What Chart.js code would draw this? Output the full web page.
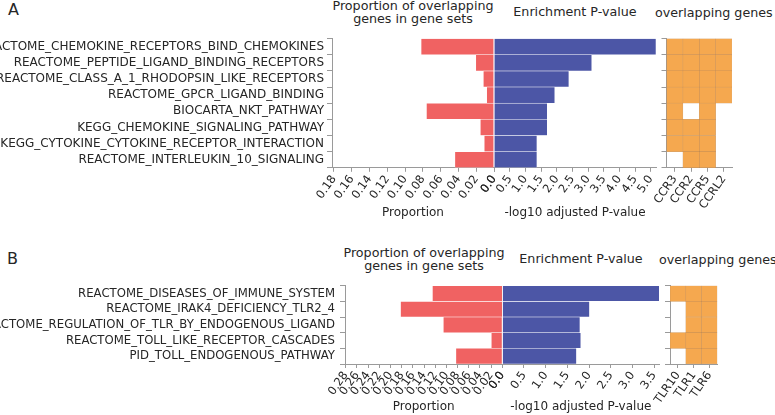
<!DOCTYPE html>
<html>
<head>
<meta charset="utf-8">
<script src="https://cdn.jsdelivr.net/npm/chart.js@4.4.0/dist/chart.umd.min.js"></script>
<style>
  body { margin: 0; background: #fff; font-family: 'DejaVu Sans', sans-serif; color: #262626; }
  #wrap { position: relative; width: 775px; height: 415px; overflow: hidden; }
  canvas { position: absolute; }
  .ttl { position: absolute; font-size: 12.7px; line-height: 12.5px; white-space: nowrap; text-align: center; }
  .panel { position: absolute; font-size: 16px; line-height: 16px; }
</style>
</head>
<body>
<div id="wrap">
  <div class="panel" style="left:8px;top:2px">A</div>
  <div class="ttl" style="left:313px;width:200px;top:0px">Proportion of overlapping<br>genes in gene sets</div>
  <div class="ttl" style="left:475px;width:200px;top:6px">Enrichment P-value</div>
  <div class="ttl" style="left:655px;top:7px;text-align:left">overlapping genes</div>

  <div class="panel" style="left:7px;top:251px">B</div>
  <div class="ttl" style="left:324px;width:200px;top:247px">Proportion of overlapping<br>genes in gene sets</div>
  <div class="ttl" style="left:481px;width:200px;top:253px">Enrichment P-value</div>
  <div class="ttl" style="left:659px;top:254px;text-align:left">overlapping genes</div>

  <canvas id="propA" width="500" height="220" style="left:0;top:0"></canvas>
  <canvas id="enrichA" width="230" height="220" style="left:440px;top:0"></canvas>
  <canvas id="heatA" width="139" height="220" style="left:636px;top:0"></canvas>

  <canvas id="propB" width="508" height="174" style="left:0;top:240px"></canvas>
  <canvas id="enrichB" width="225" height="174" style="left:450px;top:240px"></canvas>
  <canvas id="heatB" width="139" height="174" style="left:636px;top:240px"></canvas>
</div>
<script>
// Panel A data
const pathwaysA = [
    'REACTOME_CHEMOKINE_RECEPTORS_BIND_CHEMOKINES',
    'REACTOME_PEPTIDE_LIGAND_BINDING_RECEPTORS',
    'REACTOME_CLASS_A_1_RHODOPSIN_LIKE_RECEPTORS',
    'REACTOME_GPCR_LIGAND_BINDING',
    'BIOCARTA_NKT_PATHWAY',
    'KEGG_CHEMOKINE_SIGNALING_PATHWAY',
    'KEGG_CYTOKINE_CYTOKINE_RECEPTOR_INTERACTION',
    'REACTOME_INTERLEUKIN_10_SIGNALING'
];
const proportionA = [0.082, 0.0205, 0.012, 0.0082, 0.076, 0.0154, 0.011, 0.044];
const enrichA = [5.17, 3.12, 2.39, 1.94, 1.70, 1.70, 1.37, 1.37];
const genesA = ['CCR3', 'CCR2', 'CCR5', 'CCRL2'];
const overlapA = [
    [1, 1, 1, 1],
    [1, 1, 1, 1],
    [1, 1, 1, 1],
    [1, 1, 1, 1],
    [1, 0, 1, 0],
    [1, 1, 1, 0],
    [1, 1, 1, 0],
    [0, 1, 1, 0]
];
const propTicksA = [0, 0.02, 0.04, 0.06, 0.08, 0.10, 0.12, 0.14, 0.16, 0.18];
const enrichTicksA = [0, 0.5, 1.0, 1.5, 2.0, 2.5, 3.0, 3.5, 4.0, 4.5, 5.0];

// Panel B data
const pathwaysB = [
    'REACTOME_DISEASES_OF_IMMUNE_SYSTEM',
    'REACTOME_IRAK4_DEFICIENCY_TLR2_4',
    'REACTOME_REGULATION_OF_TLR_BY_ENDOGENOUS_LIGAND',
    'REACTOME_TOLL_LIKE_RECEPTOR_CASCADES',
    'PID_TOLL_ENDOGENOUS_PATHWAY'
];
const proportionB = [0.125, 0.182, 0.1055, 0.0197, 0.083];
const enrichB = [3.62, 2.01, 1.79, 1.81, 1.71];
const genesB = ['TLR10', 'TLR1', 'TLR6'];
const overlapB = [
    [1, 1, 1],
    [0, 1, 1],
    [0, 1, 1],
    [1, 1, 1],
    [0, 1, 1]
];
const propTicksB = [0, 0.02, 0.04, 0.06, 0.08, 0.10, 0.12, 0.14, 0.16, 0.18, 0.20, 0.22, 0.24, 0.26, 0.28];
const enrichTicksB = [0, 0.5, 1.0, 1.5, 2.0, 2.5, 3.0, 3.5];

const RED = '#f06262';
const BLUE = '#4c56a6';
const ORANGE = '#f5a84f';
const AXIS = '#9a9a9a';
const TEXT = '#262626';
const FONT = "'DejaVu Sans', sans-serif";
const ROT = 55;

function xAxis(max, ticks, fmt, title, xh, reverse) {
    return {
        type: 'linear',
        reverse: reverse,
        min: 0,
        max: max,
        afterBuildTicks: function(s) { s.ticks = ticks.map(v => ({ value: v })); },
        afterFit: function(s) { s.height = xh; s.paddingLeft = 0; s.paddingRight = 0; },
        grid: { drawOnChartArea: false, tickLength: 4, color: AXIS },
        border: { color: AXIS },
        ticks: {
            autoSkip: false, minRotation: ROT, maxRotation: ROT, padding: 1,
            color: TEXT, font: { family: FONT, size: 11.5 },
            callback: fmt
        },
        title: {
            display: !!title, text: title, color: TEXT, padding: 0,
            font: { family: FONT, size: 12 }
        }
    };
}

// Proportion bars (left, reversed axis) with pathway names
function proportionChart(id, labels, values, max, ticks, box) {
    new Chart(document.getElementById(id), {
        type: 'bar',
        data: {
            labels: labels,
            datasets: [{
                data: values,
                backgroundColor: RED,
                borderColor: 'rgba(255,255,255,0.4)',
                borderWidth: 0.6,
                barPercentage: 1,
                categoryPercentage: 1
            }]
        },
        options: {
            indexAxis: 'y',
            responsive: false,
            animation: false,
            layout: { padding: { top: box.top, right: box.right, left: 0, bottom: 0 } },
            plugins: { legend: { display: false }, tooltip: { enabled: false } },
            scales: {
                x: xAxis(max, ticks, v => v === 0 ? '0.0' : v.toFixed(2), 'Proportion', box.xh, true),
                y: {
                    afterFit: function(s) { s.width = box.yw; s.paddingTop = 0; s.paddingBottom = 0; },
                    grid: { drawOnChartArea: false, tickLength: 5, color: AXIS },
                    border: { color: AXIS },
                    ticks: { autoSkip: false, padding: box.pad, color: TEXT, font: { family: FONT, size: box.font } }
                }
            }
        }
    });
}

// Enrichment bars (middle)
function enrichChart(id, labels, values, max, ticks, box) {
    new Chart(document.getElementById(id), {
        type: 'bar',
        data: {
            labels: labels,
            datasets: [{
                data: values,
                backgroundColor: BLUE,
                borderColor: 'rgba(255,255,255,0.3)',
                borderWidth: 0.6,
                barPercentage: 1,
                categoryPercentage: 1
            }]
        },
        options: {
            indexAxis: 'y',
            responsive: false,
            animation: false,
            layout: { padding: { top: box.top, right: box.right, left: box.left, bottom: 0 } },
            plugins: { legend: { display: false }, tooltip: { enabled: false } },
            scales: {
                x: xAxis(max, ticks, v => v.toFixed(1), '-log10 adjusted P-value', box.xh, false),
                y: { display: false }
            }
        }
    });
}

// Overlapping genes grid (right)
function heatChart(id, labels, genes, overlap, box) {
    const datasets = genes.map((g, j) => ({
        label: g,
        data: overlap.map(r => r[j] ? [j, j + 1] : null),
        backgroundColor: ORANGE,
        borderColor: 'rgba(185,125,65,0.75)',
        borderWidth: 0.5,
        borderSkipped: false,
        barPercentage: 1,
        categoryPercentage: 1,
        grouped: false
    }));
    const xTicks = genes.map((g, j) => j + 0.5);
    new Chart(document.getElementById(id), {
        type: 'bar',
        data: { labels: labels, datasets: datasets },
        options: {
            indexAxis: 'y',
            responsive: false,
            animation: false,
            layout: { padding: { top: box.top, right: box.right, left: 0, bottom: 0 } },
            plugins: { legend: { display: false }, tooltip: { enabled: false } },
            scales: {
                x: xAxis(genes.length, xTicks, (v, i) => genes[i], '', box.xh, false),
                y: {
                    afterFit: function(s) { s.width = box.yw; s.paddingTop = 0; s.paddingBottom = 0; },
                    grid: { drawOnChartArea: false, tickLength: 5, color: AXIS },
                    border: { color: AXIS },
                    ticks: { display: false, autoSkip: false }
                }
            }
        }
    });
}

proportionChart('propA', pathwaysA, proportionA, 0.1822, propTicksA, { top: 38.6, right: 6, yw: 332, xh: 52.2, pad: 3, font: 12 });
enrichChart('enrichA', pathwaysA, enrichA, 5.17, enrichTicksA, { top: 38.6, left: 54, right: 14, xh: 52.2 });
heatChart('heatA', pathwaysA, genesA, overlapA, { top: 38.6, right: 43, yw: 30.5, xh: 52.2 });

proportionChart('propB', pathwaysB, proportionB, 0.2813, propTicksB, { top: 45.7, right: 5.7, yw: 345, xh: 50, pad: 5, font: 11.7 });
enrichChart('enrichB', pathwaysB, enrichB, 3.62, enrichTicksB, { top: 45.7, left: 52.3, right: 15.7, xh: 50 });
heatChart('heatB', pathwaysB, genesB, overlapB, { top: 45.7, right: 57.7, yw: 34, xh: 50 });
</script>
</body>
</html>
